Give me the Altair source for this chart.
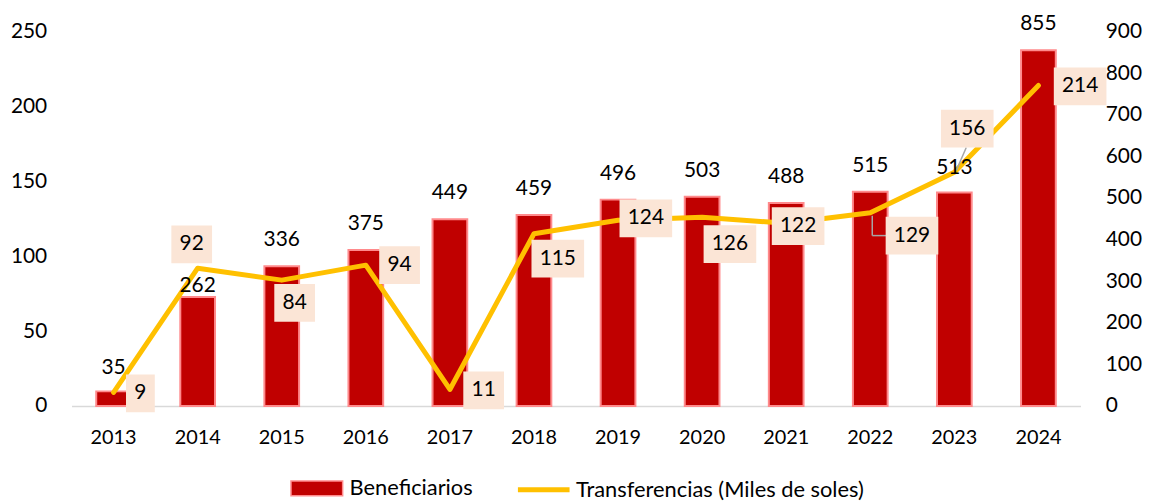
import altair as alt
import pandas as pd

# ---- data ----
years = ["2013", "2014", "2015", "2016", "2017", "2018",
         "2019", "2020", "2021", "2022", "2023", "2024"]
beneficiarios = [35, 262, 336, 375, 449, 459, 496, 503, 488, 515, 513, 855]
transferencias = [9, 92, 84, 94, 11, 115, 124, 126, 122, 129, 156, 214]

# ---- label placement (pixel offsets of data labels) ----
lab_dx = [27, -6, 13, 34, 34, 24, 28, 28, 12, 42, 13, 42]
lab_dy = [1, -24, 23, 0, 1, 25, -2, 27, 3, 23, -44, 1]
bar_lab_up = [24, 11, 26, 26, 26, 26, 26, 26, 26, 26, 25, 26]

FONT = "Lato"
W, H = 1016, 377
P_INNER = 0.587
BANDWIDTH = W / len(years) * (1 - P_INNER)
BOX_SIZE = 60  # symbol size edge in px
YL_MAX = 250
YR_MAX = 900
LEG_SYM = 20   # legend symbol reference diameter in px


def box_path(n):
    hw = (17 + 12 * n) / 2 / (BOX_SIZE / 2)
    hh = 19 / (BOX_SIZE / 2)
    return f"M{-hw:.4f},{-hh:.4f}L{hw:.4f},{-hh:.4f}L{hw:.4f},{hh:.4f}L{-hw:.4f},{hh:.4f}Z"


def rect_path(w, h):
    hw, hh = w / LEG_SYM, h / LEG_SYM
    return f"M{-hw:.3f},{-hh:.3f}L{hw:.3f},{-hh:.3f}L{hw:.3f},{hh:.3f}L{-hw:.3f},{hh:.3f}Z"


df = pd.DataFrame({
    "year": years,
    "benef": beneficiarios,
    "transf": transferencias,
})
df["lab"] = df["transf"].astype(str)
df["box"] = df["lab"].str.len().map(box_path)
df["lx"] = [d + BANDWIDTH / 2 for d in lab_dx]
df["ly"] = [t - d * YL_MAX / H for t, d in zip(transferencias, lab_dy)]
df["by"] = [b + d * YR_MAX / H for b, d in zip(beneficiarios, bar_lab_up)]
df["s_bar"] = "Beneficiarios"
df["s_line"] = "Transferencias (Miles de soles)"

base = alt.Chart(df)

x = alt.X(
    "year:N",
    scale=alt.Scale(paddingInner=P_INNER, paddingOuter=P_INNER / 2),
    axis=alt.Axis(title=None, labelAngle=0, ticks=False, domainColor="#D9D9D9",
                  domainWidth=1.5, labelFont=FONT, labelFontSize=20,
                  labelPadding=22, labelColor="#000000"),
)

yR_scale = alt.Scale(domain=[0, YR_MAX], nice=False)
yR = alt.Y(
    "benef:Q",
    scale=yR_scale,
    axis=alt.Axis(orient="right", title=None, ticks=False, domain=False, grid=False,
                  values=list(range(0, 901, 100)), labelFont=FONT, labelFontSize=21,
                  labelPadding=25, labelColor="#000000"),
)

yL_scale = alt.Scale(domain=[0, YL_MAX], nice=False)
yL_axis = alt.Axis(orient="left", title=None, ticks=False, domain=False, grid=False,
                   values=list(range(0, 251, 50)), labelFont=FONT, labelFontSize=21,
                   labelPadding=25, labelColor="#000000")
yL = alt.Y("transf:Q", scale=yL_scale, axis=yL_axis)
yLab = alt.Y("ly:Q", scale=yL_scale, axis=yL_axis)

bars = base.mark_bar(stroke="#FF8A8C", strokeWidth=2).encode(
    x=x,
    y=yR,
    fill=alt.Fill("s_bar:N", scale=alt.Scale(range=["#C00000"]),
                  legend=alt.Legend(title=None, orient="none", legendX=236, legendY=449,
                                    symbolType=rect_path(52, 15),
                                    symbolSize=LEG_SYM ** 2, symbolStrokeColor="#FF8A8C",
                                    symbolStrokeWidth=1.5, labelFont=FONT,
                                    labelFontSize=22, labelOffset=22, padding=0,
                                    labelLimit=600, labelColor="#000000")),
)

line = base.mark_line(strokeWidth=5, strokeCap="round", strokeJoin="round").encode(
    x=x,
    y=yL,
    stroke=alt.Stroke("s_line:N", scale=alt.Scale(range=["#FFC000"]),
                      legend=alt.Legend(title=None, orient="none", legendX=463, legendY=449,
                                        symbolType="M-2.6,0L2.6,0", symbolSize=LEG_SYM ** 2,
                                        symbolStrokeWidth=5, labelFont=FONT,
                                        labelFontSize=22, labelOffset=20, padding=0,
                                        labelLimit=600, labelColor="#000000")),
)

lead_a = base.transform_filter(alt.datum.year == "2022").mark_rule(
    color="#A6A6A6", strokeWidth=1.5, yOffset=3, y2Offset=23, xOffset=2, x2Offset=2
).encode(x=x, y=yL, y2="transf:Q")
lead_b = base.transform_filter(alt.datum.year == "2022").mark_rule(
    color="#A6A6A6", strokeWidth=1.5, yOffset=23, y2Offset=23, xOffset=2, x2Offset=16
).encode(x=x, x2="year:N", y=yL, y2="transf:Q")
lead_c = base.transform_filter(alt.datum.year == "2023").mark_rule(
    color="#A6A6A6", strokeWidth=1.5, yOffset=-2, y2Offset=-25, xOffset=2, x2Offset=12
).encode(x=x, x2="year:N", y=yL, y2="transf:Q")

boxes = base.mark_point(filled=True, fill="#FBE5D6", opacity=1, size=BOX_SIZE ** 2,
                        strokeWidth=0).encode(
    x=x, y=yLab,
    shape=alt.Shape("box:N", scale=None),
    xOffset=alt.XOffset("lx:Q", scale=None),
)
labels = base.mark_text(font=FONT, fontSize=21, baseline="middle", color="#000000").encode(
    x=x, y=yLab, text="lab:N",
    xOffset=alt.XOffset("lx:Q", scale=None),
)
left = alt.layer(line, lead_a, lead_b, lead_c, boxes, labels)

bar_text = base.mark_text(font=FONT, fontSize=21, baseline="middle",
                          color="#000000").encode(
    x=x, y=alt.Y("by:Q", scale=yR_scale, axis=None), text="benef:Q")

chart = alt.layer(bars, left, bar_text).resolve_scale(y="independent").properties(
    width=W, height=H,
    padding={"left": 64, "top": 22, "right": 66, "bottom": 95},
    autosize="none",
    background="#FFFFFF",
).configure_view(stroke=None)

chart.save("out.html", embed_options={"renderer": "svg", "actions": False})
